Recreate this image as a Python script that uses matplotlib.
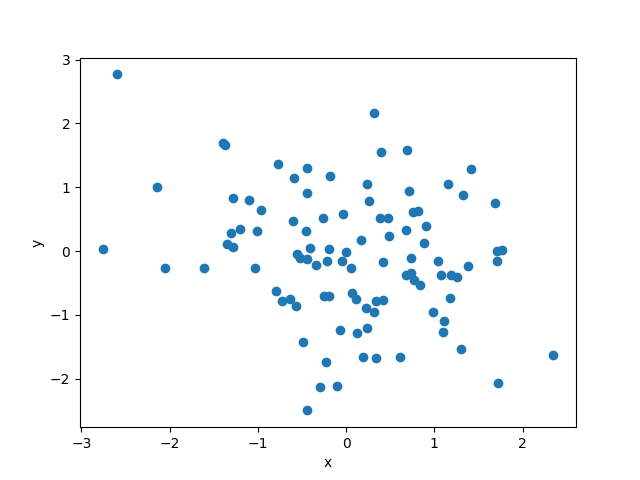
import matplotlib
matplotlib.use('Agg')
import matplotlib.pyplot as plt

# values
x = [-2.60, -2.76, -2.14, -2.05, -1.61, -1.40, -1.37, -1.28, -1.10, -1.20,
     -1.30, -1.35, -1.28, -0.96, -1.01, -1.03, -0.77, -0.59, -0.44, -0.18,
     -0.44, -0.60, -0.26, -0.03, -0.45, -0.56, -0.52, -0.44, -0.41, -0.34,
     -0.19, -0.22, 0.00, -0.05, 0.05, -0.79, -0.73, -0.63, -0.57, -0.25,
     -0.19, 0.07, 0.11, 0.23, 0.34, 0.42, 0.32, -0.07, 0.12, 0.24,
     -0.49, -0.23, 0.19, 0.34, 0.61, -0.29, -0.10, -0.44, 0.32, 0.39,
     0.24, 0.26, 0.38, 0.48, 0.17, 0.49, 0.42, 0.69, 0.71, 0.76,
     0.81, 0.68, 0.90, 0.88, 0.74, 1.04, 0.68, 0.73, 0.77, 0.84,
     1.08, 1.19, 1.26, 1.38, 1.71, 1.77, 1.71, 1.41, 1.15, 1.32,
     1.69, 1.18, 0.99, 1.11, 1.10, 1.30, 2.35, 1.72]
y = [2.77, 0.03, 1.00, -0.26, -0.26, 1.69, 1.66, 0.83, 0.80, 0.34,
     0.28, 0.11, 0.07, 0.64, 0.31, -0.27, 1.36, 1.14, 1.30, 1.17,
     0.91, 0.47, 0.52, 0.58, 0.31, -0.05, -0.11, -0.13, 0.04, -0.22,
     0.03, -0.16, -0.02, -0.16, -0.27, -0.63, -0.79, -0.76, -0.87, -0.71,
     -0.71, -0.66, -0.75, -0.89, -0.79, -0.77, -0.96, -1.24, -1.29, -1.20,
     -1.43, -1.74, -1.67, -1.68, -1.67, -2.14, -2.12, -2.50, 2.17, 1.56,
     1.05, 0.78, 0.52, 0.52, 0.17, 0.24, -0.18, 1.58, 0.94, 0.61,
     0.63, 0.33, 0.40, 0.13, -0.11, -0.16, -0.38, -0.34, -0.46, -0.54,
     -0.37, -0.38, -0.40, -0.24, -0.005, 0.01, -0.15, 1.28, 1.05, 0.88,
     0.75, -0.73, -0.96, -1.10, -1.27, -1.53, -1.63, -2.07]

fig = plt.figure(figsize=(6.4, 4.8), dpi=100)
plt.scatter(x, y)
plt.xlabel("x")
plt.ylabel("y")
plt.savefig("out.png")
